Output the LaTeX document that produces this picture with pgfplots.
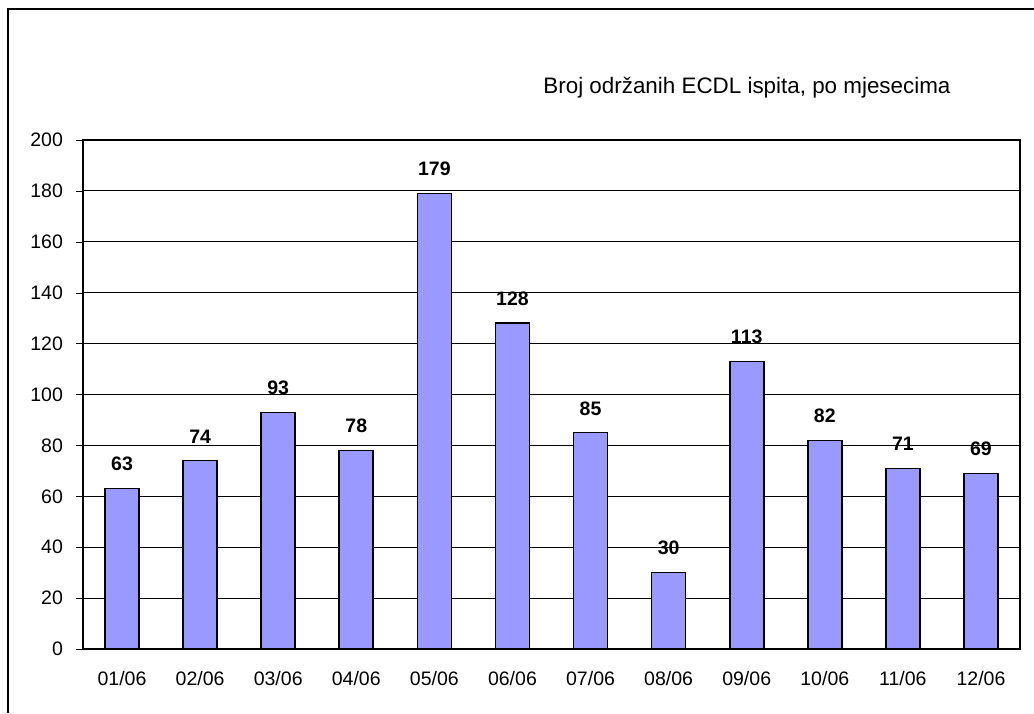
\documentclass[border=0pt]{standalone}
\usepackage{pgfplots}
\pgfplotsset{compat=1.18}
\usepackage{fontspec}
\setmainfont{Liberation Sans}
\definecolor{barblue}{HTML}{9999FF}
\begin{document}
\begin{tikzpicture}
\path[use as bounding box] (0,0) rectangle (517pt,356.5pt);
\draw[line width=1pt] (4pt,0) -- (4pt,352pt) -- (517pt,352pt);
\node[anchor=base west,font=\fontsize{11.2}{13}\selectfont,inner sep=0pt] at (271.5pt,309.5pt) {Broj održanih ECDL ispita, po mjesecima};
\begin{axis}[
  at={(41.5pt,32pt)}, anchor=south west,
  scale only axis, width=468.5pt, height=254.5pt,
  xmin=-0.5, xmax=11.5, ymin=0, ymax=200,
  xtick={0,...,11},
  xticklabels={01/06,02/06,03/06,04/06,05/06,06/06,07/06,08/06,09/06,10/06,11/06,12/06},
  extra x ticks={-0.5,0.5,...,11.5}, extra x tick labels={},
  extra x tick style={major tick length=3.5pt, tick style={black}, grid=none},
  xtick style={draw=none},
  ytick={0,20,...,200},
  ymajorgrids, grid style={black, line width=0.5pt},
  tick align=outside, major tick length=3.5pt, tick pos=left,
  ytick style={black},
  axis line style={black, line width=0.8pt},
  ticklabel style={font=\fontsize{9.75}{11}\selectfont},
  /pgf/number format/assume math mode=true,
  xticklabel style={yshift=-4pt},
  yticklabel style={xshift=-3pt},
  nodes near coords,
  every node near coord/.append style={font=\fontsize{9.75}{11}\selectfont\bfseries, yshift=5pt},
  clip=false,
]
\addplot[ybar, bar width=17pt, fill=barblue, draw=black, line width=0.8pt] coordinates {
(0,63) (1,74) (2,93) (3,78) (4,179) (5,128) (6,85) (7,30) (8,113) (9,82) (10,71) (11,69)
};
\end{axis}
\end{tikzpicture}
\end{document}
